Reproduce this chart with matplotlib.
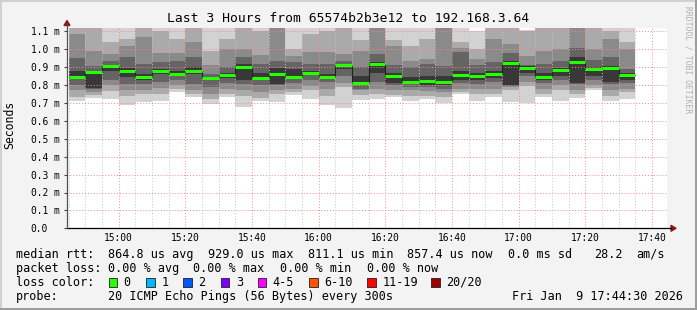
import matplotlib
matplotlib.use('Agg')
import matplotlib.pyplot as plt
from matplotlib.patches import Rectangle, Polygon
from matplotlib.lines import Line2D

# ---------------- data (values in milliseconds) ----------------
bar_starts = ["14:45", "14:50", "14:55", "15:00", "15:05", "15:10", "15:15", "15:20",
              "15:25", "15:30", "15:35", "15:40", "15:45", "15:50", "15:55", "16:00",
              "16:05", "16:10", "16:15", "16:20", "16:25", "16:30", "16:35", "16:40",
              "16:45", "16:50", "16:55", "17:00", "17:05", "17:10", "17:15", "17:20",
              "17:25", "17:30"]

median = [0.845, 0.875, 0.907, 0.880, 0.845, 0.880, 0.864, 0.880, 0.841, 0.858,
          0.903, 0.841, 0.860, 0.847, 0.869, 0.847, 0.914, 0.812, 0.916, 0.853,
          0.819, 0.825, 0.819, 0.858, 0.853, 0.864, 0.925, 0.897, 0.847, 0.886,
          0.929, 0.892, 0.897, 0.857]

# smoke bands, outer (1) to inner (5): upper and lower edges
upper_1 = [1.20, 1.20, 1.20, 1.20, 1.20, 1.20, 1.20, 1.20, 1.20, 1.12, 1.20, 1.20, 1.20, 1.20, 1.20, 1.20, 1.20,
           1.12, 1.20, 1.20, 1.12, 1.20, 1.20, 1.20, 1.10, 1.20, 1.20, 1.11, 1.20, 1.20, 1.20, 1.20, 1.12, 1.20]
upper_2 = [1.16, 1.16, 1.04, 1.06, 1.18, 1.10, 1.06, 1.17, 0.99, 1.06, 1.18, 1.10, 1.18, 1.00, 1.085, 1.10, 1.12,
           1.05, 1.18, 1.05, 1.02, 1.06, 1.18, 1.04, 1.00, 1.18, 1.18, 1.10, 1.18, 1.18, 1.18, 1.18, 1.10, 1.04]
upper_3 = [1.085, 0.992, 0.973, 1.02, 1.07, 0.98, 0.98, 1.04, 0.91, 1.00, 1.00, 0.97, 1.15, 0.965, 0.985, 0.985, 0.973,
           0.99, 1.15, 1.02, 0.936, 0.945, 1.15, 1.01, 0.945, 1.06, 1.03, 0.965, 0.99, 1.00, 1.15, 1.00, 1.06, 1.00]
upper_4 = [0.95, 0.908, 0.936, 0.955, 0.918, 0.93, 0.936, 0.955, 0.86, 0.90, 0.955, 0.92, 0.936, 0.93, 0.92, 0.918, 0.936,
           0.90, 0.973, 0.91, 0.90, 0.92, 0.908, 0.985, 0.91, 0.93, 0.98, 0.91, 0.92, 0.936, 1.01, 0.94, 0.955, 0.89]
upper_5 = [0.88, 0.88, 0.914, 0.895, 0.86, 0.89, 0.88, 0.90, 0.848, 0.87, 0.92, 0.87, 0.895, 0.89, 0.88, 0.86, 0.92,
           0.85, 0.93, 0.87, 0.843, 0.85, 0.85, 0.88, 0.87, 0.88, 0.935, 0.905, 0.87, 0.895, 0.955, 0.90, 0.905, 0.87]
lower_1 = [0.713, 0.728, 0.722, 0.69, 0.703, 0.713, 0.76, 0.731, 0.694, 0.735, 0.68, 0.71, 0.703, 0.745, 0.72, 0.688, 0.672,
           0.716, 0.722, 0.731, 0.713, 0.722, 0.70, 0.75, 0.713, 0.731, 0.703, 0.698, 0.731, 0.713, 0.728, 0.775, 0.71, 0.72]
lower_2 = [0.735, 0.745, 0.769, 0.74, 0.75, 0.75, 0.78, 0.75, 0.722, 0.75, 0.74, 0.73, 0.75, 0.76, 0.77, 0.74, 0.79,
           0.745, 0.75, 0.745, 0.74, 0.74, 0.735, 0.76, 0.75, 0.75, 0.77, 0.795, 0.75, 0.77, 0.75, 0.785, 0.74, 0.76]
lower_3 = [0.77, 0.76, 0.80, 0.77, 0.77, 0.785, 0.80, 0.77, 0.75, 0.78, 0.77, 0.76, 0.775, 0.78, 0.795, 0.78, 0.81,
           0.77, 0.78, 0.77, 0.77, 0.769, 0.76, 0.78, 0.78, 0.78, 0.79, 0.82, 0.78, 0.80, 0.77, 0.80, 0.77, 0.78]
lower_4 = [0.80, 0.78, 0.83, 0.806, 0.806, 0.82, 0.83, 0.806, 0.787, 0.81, 0.806, 0.80, 0.80, 0.81, 0.83, 0.815, 0.85,
           0.78, 0.82, 0.80, 0.79, 0.787, 0.78, 0.81, 0.806, 0.82, 0.795, 0.85, 0.81, 0.83, 0.806, 0.83, 0.806, 0.81]
lower_5 = [0.835, 0.785, 0.88, 0.843, 0.83, 0.86, 0.855, 0.86, 0.83, 0.84, 0.826, 0.83, 0.806, 0.835, 0.86, 0.835, 0.89,
           0.80, 0.87, 0.81, 0.81, 0.80, 0.80, 0.826, 0.83, 0.84, 0.80, 0.87, 0.83, 0.85, 0.81, 0.85, 0.82, 0.83]

band_colors = ['#d2d2d2', '#aaaaaa', '#8a8a8a', '#646464', '#383838']

y_ticks = [0.0, 0.1, 0.2, 0.3, 0.4, 0.5, 0.6, 0.7, 0.8, 0.9, 1.0, 1.1]
y_labels = ["0.0", "0.1 m", "0.2 m", "0.3 m", "0.4 m", "0.5 m", "0.6 m", "0.7 m",
            "0.8 m", "0.9 m", "1.0 m", "1.1 m"]
x_tick_labels = ["15:00", "15:20", "15:40", "16:00", "16:20", "16:40", "17:00", "17:20", "17:40"]

loss_labels = ["0", "1", "2", "3", "4-5", "6-10", "11-19", "20/20"]
loss_colors = ['#26ff00', '#00b8ff', '#0059ff', '#7e00ff', '#ff00ff', '#ff5500', '#ff0000', '#a00000']

title = "Last 3 Hours from 65574b2b3e12 to 192.168.3.64"
stats_rtt = ["864.8 us avg", "929.0 us max", "811.1 us min", "857.4 us now", "0.0 ms sd", "28.2", "am/s"]
stats_loss = ["0.00 % avg", "0.00 % max", "0.00 % min", "0.00 % now"]
probe_text = "20 ICMP Echo Pings (56 Bytes) every 300s"
date_text = "Fri Jan  9 17:44:30 2026"

# ---------------- helpers ----------------
W, H = 697, 310
T0 = 14 * 60 + 44.5   # graph start 14:44:30
STEP = 5.0


def tmin(s):
    h, m = s.split(":")
    return int(h) * 60 + int(m) - T0


def fx(x):
    return x / W


def fy(y):
    return 1 - y / H


MONO = 'DejaVu Sans Mono'
plt.rcParams['font.family'] = [MONO]

fig = plt.figure(figsize=(W / 100, H / 100), dpi=100)
fig.patch.set_facecolor('#f3f3f3')

ax_left, ax_right, ax_top, ax_bottom = 67, 667, 28, 228.3
ax = fig.add_axes([fx(ax_left), fy(ax_bottom), (ax_right - ax_left) / W, (ax_bottom - ax_top) / H])
ax.set_facecolor('white')
ax.set_xlim(0, 180)
ax.set_ylim(0, (ax_bottom - ax_top) / 179.0)

lefts = [tmin(s) for s in bar_starts]
uppers = [upper_1, upper_2, upper_3, upper_4, upper_5]
lowers = [lower_1, lower_2, lower_3, lower_4, lower_5]
for up, lo, col in zip(uppers, lowers, band_colors):
    ax.bar(lefts, [u - l for u, l in zip(up, lo)], bottom=lo, width=STEP, align='edge',
           color=col, linewidth=0, zorder=1)

# median step line
edges = lefts + [lefts[-1] + STEP]
ax.stairs(median, edges, color='#202020', linewidth=0.8, baseline=None, zorder=3)
ax.hlines(median, lefts, [l + STEP for l in lefts], color=loss_colors[0], linewidth=2.2, zorder=4)

# grid
major_x = [tmin(s) for s in x_tick_labels]
minor_x = [tmin(s) for s in bar_starts] + [tmin("17:35"), tmin("17:40")]
ax.set_xticks(major_x, x_tick_labels)
ax.set_xticks(minor_x, minor=True)
ax.set_yticks(y_ticks, y_labels)
ax.set_axisbelow(False)
ax.grid(True, which='major', axis='both', color='#f08a8a', linestyle=(0, (1, 2)), linewidth=0.7, zorder=2.5)
ax.grid(True, which='minor', axis='x', color='#c4c4c4', linestyle=(0, (1, 2)), linewidth=0.7, zorder=2.4)

for s in ax.spines.values():
    s.set_visible(False)
ax.tick_params(axis='x', which='both', length=0, pad=3.2, labelsize=6.9, colors='#000000')
ax.tick_params(axis='y', which='major', length=2.5, width=0.8, color='#404040',
               pad=26.1 - 2.5, labelsize=6.9, labelcolor='#000000')
for lab in ax.get_yticklabels():
    lab.set_horizontalalignment('left')

# axis lines and arrows (figure pixel coordinates)
fig.add_artist(Line2D([fx(67), fx(671)], [fy(228.3), fy(228.3)], color='#000000', lw=0.9))
fig.add_artist(Line2D([fx(67), fx(67)], [fy(228.3), fy(25)], color='#505050', lw=0.9))
fig.add_artist(Polygon([(fx(671), fy(225.3)), (fx(671), fy(231.3)), (fx(676), fy(228.3))],
                       closed=True, color='#8b1a1a', transform=fig.transFigure))
fig.add_artist(Polygon([(fx(64), fy(25.5)), (fx(70), fy(25.5)), (fx(67), fy(20.5))],
                       closed=True, color='#8b1a1a', transform=fig.transFigure))

# texts
fig.text(fx(348), fy(19), title, ha='center', va='center', fontsize=9.35, color='#000000')
fig.text(fx(10), fy(125), "Seconds", rotation=90, ha='center', va='center', fontsize=8.3)
fig.text(fx(688), fy(60), "RRDTOOL / TOBI OETIKER", rotation=270, ha='center', va='center',
         fontsize=5.8, color='#b0b0b0')

LFS = 8.5
row_y = [254.3, 268.3, 282.3, 296.3]
fig.text(fx(16), fy(row_y[0]), "median rtt:", ha='left', va='center', fontsize=LFS)
for xp, s in zip([107.6, 207.5, 307.5, 407.5, 508, 594, 636], stats_rtt):
    fig.text(fx(xp), fy(row_y[0]), s, ha='left', va='center', fontsize=LFS)
fig.text(fx(16), fy(row_y[1]), "packet loss:", ha='left', va='center', fontsize=LFS)
for xp, s in zip([107.6, 193.5, 280, 366.5], stats_loss):
    fig.text(fx(xp), fy(row_y[1]), s, ha='left', va='center', fontsize=LFS)
fig.text(fx(16), fy(row_y[2]), "loss color:", ha='left', va='center', fontsize=LFS)
box_x = [108.5, 146, 183, 220.5, 257.6, 309, 367, 431]
for bx, lab, col in zip(box_x, loss_labels, loss_colors):
    fig.add_artist(Rectangle((fx(bx), fy(row_y[2] + 4.3)), 8.7 / W, 8.7 / H, facecolor=col,
                             edgecolor='#202020', linewidth=0.6, transform=fig.transFigure))
    fig.text(fx(bx + 15.2), fy(row_y[2]), lab, ha='left', va='center', fontsize=LFS)
fig.text(fx(16), fy(row_y[3]), "probe:", ha='left', va='center', fontsize=LFS)
fig.text(fx(107.6), fy(row_y[3]), probe_text, ha='left', va='center', fontsize=LFS)
fig.text(fx(683), fy(row_y[3]), date_text, ha='right', va='center', fontsize=LFS)

# frame
fig.add_artist(Line2D([0, 1], [fy(0.8), fy(0.8)], color='#d0d0d0', lw=1.4))
fig.add_artist(Line2D([fx(0.8), fx(0.8)], [0, 1], color='#d0d0d0', lw=1.4))
fig.add_artist(Line2D([0, 1], [fy(309.2), fy(309.2)], color='#9a9a9a', lw=1.4))
fig.add_artist(Line2D([fx(696.2), fx(696.2)], [0, 1], color='#9a9a9a', lw=1.4))

fig.savefig('out.png', dpi=100, facecolor=fig.get_facecolor())
